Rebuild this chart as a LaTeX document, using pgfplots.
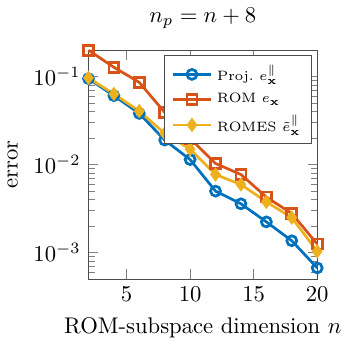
\documentclass[border=0pt]{standalone}
\usepackage{pgfplots}
\pgfplotsset{compat=1.18}
\definecolor{cblue}{RGB}{0,114,189}
\definecolor{cred}{RGB}{217,83,25}
\definecolor{cyellow}{RGB}{237,177,32}
\begin{document}
\begin{tikzpicture}
\begin{axis}[
  scale only axis,
  width=101pt, height=101pt,
  ymode=log,
  xmin=2, xmax=20,
  ymin=5e-4, ymax=0.2,
  xtick={5,10,15,20},
  title={$n_p = n + 8$},
  xlabel={ROM-subspace dimension $n$},
  ylabel={error},
  axis line style={black!70},
  legend style={at={(1,1)}, anchor=north east, xshift=-2.2pt, yshift=-2.2pt,
    font=\fontsize{6}{7}\selectfont, draw=black!70},
  legend cell align=left,
  every axis plot/.append style={line width=1.2pt, mark size=2.2pt},
  clip=false,
]
\addplot[cblue, mark=o, mark options={fill=white}] coordinates {
  (2,0.095) (4,0.0608) (6,0.0382) (8,0.019) (10,0.0114)
  (12,0.00499) (14,0.00358) (16,0.00223) (18,0.00136) (20,0.000668)};
\addlegendentry{Proj.\ $e_{\mathbf{x}}^{\|}$}
\addplot[cred, mark=square, mark options={fill=white}] coordinates {
  (2,0.2) (4,0.128) (6,0.0861) (8,0.0392) (10,0.0198)
  (12,0.0103) (14,0.00771) (16,0.00427) (18,0.00278) (20,0.00125)};
\addlegendentry{ROM $e_{\mathbf{x}}$}
\addplot[cyellow, mark=diamond*] coordinates {
  (2,0.097) (4,0.0636) (6,0.0406) (8,0.0226) (10,0.015)
  (12,0.0077) (14,0.00594) (16,0.00377) (18,0.00249) (20,0.00103)};
\addlegendentry{ROMES $\tilde{e}_{\mathbf{x}}^{\|}$}
\end{axis}
\end{tikzpicture}
\end{document}
